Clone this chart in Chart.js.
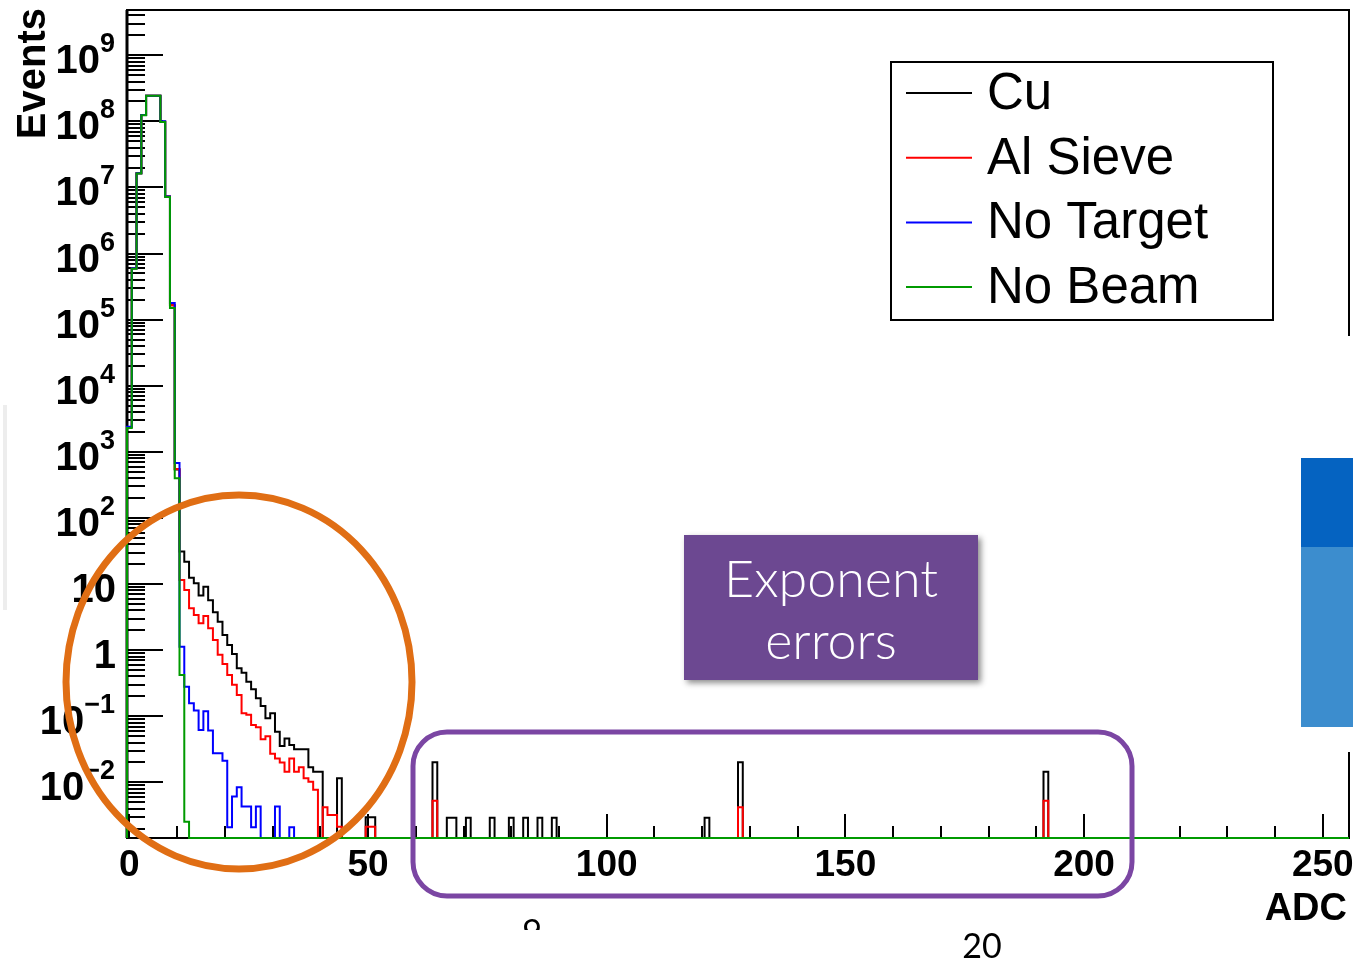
<!DOCTYPE html>
<html>
<head>
<meta charset="utf-8">
<script src="https://cdn.jsdelivr.net/npm/chart.js@4.4.1/dist/chart.umd.min.js"></script>
<style>
  * { margin: 0; padding: 0; }
  body { background: #fff; width: 1353px; height: 959px; overflow: hidden; }
  canvas { display: block; }
</style>
</head>
<body>
<canvas id="adc" width="1353" height="959"></canvas>
<script>
//  D A T A  (normalised events per ADC channel, bins centred on 0..255)  //
const NBINS = 256;
const Y_MIN = 1.44e-3;
const Y_MAX = 4.84e9;

// channels 0..10, where all four runs sit on top of each other
const cuPeak     = [2380, 6.0e5, 1.64e7, 1.25e8, 2.45e8, 2.45e8, 2.45e8, 9.9e7, 7.3e6, 1.65e5, 540];
const alPeak     = [2380, 6.0e5, 1.64e7, 1.25e8, 2.45e8, 2.45e8, 2.45e8, 9.9e7, 7.3e6, 1.65e5, 550];
const noTgtPeak  = [2400, 6.0e5, 1.64e7, 1.25e8, 2.45e8, 2.45e8, 2.45e8, 1.0e8, 7.3e6, 1.78e5, 680];
const noBeamPeak = [2300, 5.9e5, 1.62e7, 1.24e8, 2.45e8, 2.45e8, 2.45e8, 9.8e7, 7.2e6, 1.5e5, 400];

// tails, starting at channel 11
const cuTail = [31, 21.8, 12.5, 10.3, 6.7, 9.1, 5.7, 3.74, 2.7, 1.7,
                1.2, 0.875, 0.532, 0.457, 0.334, 0.256, 0.187, 0.143, 0.093, 0.111,
                0.0585, 0.0356, 0.046, 0.0368, 0.0317, 0.0317, 0.0317, 0.0169, 0.0145, 0.0145,
                0, 0, 0, 0.0115];
const alTail = [11.5, 8.1, 4.3, 3.4, 2.55, 3.3, 2.14, 1.43, 0.85, 0.62,
                0.42, 0.30, 0.21, 0.111, 0.105, 0.074, 0.068, 0.045, 0.050, 0.027,
                0.023, 0.020, 0.0145, 0.023, 0.0145, 0.017, 0.0115, 0.0102, 0.0077, 0,
                0.0042, 0.0032, 0.0032, 0.00214];
const noTgtTail = [1.13, 0.28, 0.157, 0.122, 0.062, 0.119, 0.061, 0.0275, 0.0275, 0.0213,
                   0.0021, 0.0061, 0.0084, 0.0043, 0.0043, 0.0021, 0.0043, 0, 0, 0,
                   0.0043, 0, 0, 0.0021];
const noBeamTail = [0.42, 0.00254];

// isolated high channels (the "exponent errors")
const spikeBins = [50, 51, 64, 67, 68, 71, 76, 80, 83, 86, 89, 121, 128, 192];
const cuSpikes  = [0.00297, 0.00297, 0.0201, 0.00292, 0.00292, 0.00292, 0.00292, 0.00292,
                   0.00292, 0.00292, 0.00292, 0.00292, 0.0201, 0.0145];
const alSpikes  = [0.00214, 0.00214, 0.00528, 0, 0, 0, 0, 0, 0, 0, 0, 0, 0.0042, 0.00528];

const seriesNames  = ["Cu", "Al Sieve", "No Target", "No Beam"];
const seriesColors = ["#000000", "#ff0000", "#0000ff", "#009a00"];

const xTickValues = [0, 50, 100, 150, 200, 250];
const yDecades    = [-2, -1, 0, 1, 2, 3, 4, 5, 6, 7, 8, 9];


//  B U I L D   H I S T O G R A M S  //
function buildHist(peak, tail, spikes) {
    const h = new Array(NBINS).fill(0);
    peak.forEach((v, i) => h[i] = v);
    tail.forEach((v, i) => h[peak.length + i] = v);
    if (spikes) spikeBins.forEach((b, i) => h[b] = spikes[i]);
    return h;
}

// one point per left bin edge, step drawn to the right
function toSteps(h) {
    const pts = [{ x: -0.5, y: Y_MIN }];
    h.forEach((v, i) => pts.push({ x: i - 0.5, y: Math.max(v, Y_MIN) }));
    pts.push({ x: NBINS - 0.5, y: Math.max(h[NBINS - 1], Y_MIN) });
    return pts;
}

const hists = [
    buildHist(cuPeak, cuTail, cuSpikes),
    buildHist(alPeak, alTail, alSpikes),
    buildHist(noTgtPeak, noTgtTail),
    buildHist(noBeamPeak, noBeamTail)
];


//  R O O T   L O O K  //
const BOLD   = "bold 37px 'Liberation Sans', Arial, sans-serif";
const YBOLD  = "bold 40px 'Liberation Sans', Arial, sans-serif";
const SUP    = "bold 27px 'Liberation Sans', Arial, sans-serif";

const rootStyle = {
    id: "rootStyle",
    beforeDatasetsDraw(chart) {
        const { ctx, chartArea: a, scales: { x, y } } = chart;
        ctx.save();
        ctx.strokeStyle = "#000";
        ctx.lineWidth = 2;

        // log ticks on the left
        for (let n = -3; n <= 9; n++) {
            for (let m = 1; m <= 9; m++) {
                const v = m * Math.pow(10, n);
                if (v <= Y_MIN || v >= Y_MAX) continue;
                const py = Math.round(y.getPixelForValue(v));
                ctx.beginPath();
                ctx.moveTo(a.left, py);
                ctx.lineTo(a.left + (m === 1 ? 36 : 18), py);
                ctx.stroke();
            }
        }

        // ticks along the bottom
        for (let v = 0; v <= 250; v += 10) {
            const px = Math.round(x.getPixelForValue(v));
            ctx.beginPath();
            ctx.moveTo(px, a.bottom);
            ctx.lineTo(px, a.bottom - (v % 50 === 0 ? 24 : 12));
            ctx.stroke();
        }

        ctx.strokeRect(a.left, a.top, a.right - a.left, a.bottom - a.top);
        ctx.lineWidth = 3;
        ctx.beginPath();
        ctx.moveTo(a.left, a.top);
        ctx.lineTo(a.left, a.bottom);
        ctx.stroke();
        ctx.restore();
    },

    afterDraw(chart) {
        const { ctx, chartArea: a, scales: { x, y } } = chart;
        ctx.save();
        ctx.fillStyle = "#000";

        // x labels
        ctx.font = BOLD;
        ctx.textAlign = "center";
        ctx.textBaseline = "alphabetic";
        xTickValues.forEach(v => ctx.fillText(String(v), x.getPixelForValue(v), 876));

        // y labels 10^n
        const right = 115;
        yDecades.forEach(n => {
            const py = y.getPixelForValue(Math.pow(10, n));
            if (n === 0 || n === 1) {
                ctx.font = YBOLD;
                ctx.textAlign = "right";
                ctx.fillText(n === 0 ? "1" : "10", right + 1, py + 18);
            } else {
                const sup = n < 0 ? "\u2212" + (-n) : String(n);
                ctx.font = SUP;
                const sw = ctx.measureText(sup).width;
                ctx.textAlign = "left";
                ctx.fillText(sup, right - sw, py - 3);
                ctx.font = YBOLD;
                ctx.textAlign = "right";
                ctx.fillText("10", right - sw, py + 18);
            }
        });

        // axis titles
        ctx.font = "bold 38px 'Liberation Sans', Arial, sans-serif";
        ctx.textAlign = "right";
        ctx.fillText("ADC", 1347, 920);
        ctx.save();
        ctx.translate(45, 8);
        ctx.rotate(-Math.PI / 2);
        ctx.font = "bold 40px 'Liberation Sans', Arial, sans-serif";
        ctx.textAlign = "right";
        ctx.fillText("Events", 0, 0);
        ctx.restore();

        // legend
        ctx.fillStyle = "#fff";
        ctx.fillRect(891, 62, 382, 258);
        ctx.strokeStyle = "#000";
        ctx.lineWidth = 2;
        ctx.strokeRect(891, 62, 382, 258);
        ctx.font = "51px 'Liberation Sans', Arial, sans-serif";
        ctx.textAlign = "left";
        seriesNames.forEach((name, i) => {
            const ly = 93 + i * 64.7;
            ctx.strokeStyle = seriesColors[i];
            ctx.beginPath();
            ctx.moveTo(906, ly);
            ctx.lineTo(972, ly);
            ctx.stroke();
            ctx.fillStyle = "#000";
            ctx.fillText(name, 987, ly + 16);
        });

        // right frame edge hidden by the slide overlay
        ctx.fillStyle = "#fff";
        ctx.fillRect(1340, 336, 13, 416);
        ctx.fillStyle = "#0563c1";
        ctx.fillRect(1301, 458, 52, 89);
        ctx.fillStyle = "#3c8dce";
        ctx.fillRect(1301, 547, 52, 180);

        // faint slide edge on the left
        ctx.strokeStyle = "rgba(0,0,0,0.07)";
        ctx.lineWidth = 4;
        ctx.beginPath();
        ctx.moveTo(5, 405);
        ctx.lineTo(5, 610);
        ctx.stroke();

        // purple note
        ctx.save();
        ctx.shadowColor = "rgba(0,0,0,0.45)";
        ctx.shadowBlur = 6;
        ctx.shadowOffsetX = 3;
        ctx.shadowOffsetY = 3;
        ctx.fillStyle = "#6c4891";
        ctx.fillRect(684, 535, 294, 145);
        ctx.restore();
        ctx.fillStyle = "#fff";
        ctx.font = "300 52px Lato, 'Open Sans', sans-serif";
        ctx.textAlign = "center";
        ctx.fillText("Exponent", 831, 597);
        ctx.fillText("errors", 831, 659);

        // orange circle around the tails
        ctx.strokeStyle = "#e06e14";
        ctx.lineWidth = 7;
        ctx.beginPath();
        ctx.ellipse(239, 682, 173, 187, 0, 0, Math.PI * 2);
        ctx.stroke();

        // purple box around the spikes
        ctx.strokeStyle = "#7b46a3";
        ctx.lineWidth = 5;
        ctx.beginPath();
        ctx.roundRect(413, 732, 719, 164, 34);
        ctx.stroke();

        // page bits at the bottom
        ctx.fillStyle = "#000";
        ctx.font = "34px Lato, 'Open Sans', sans-serif";
        ctx.textAlign = "center";
        ctx.fillText("20", 982, 958);
        ctx.save();
        ctx.beginPath();
        ctx.rect(500, 900, 60, 30);
        ctx.clip();
        ctx.fillText("9", 532, 944);
        ctx.restore();

        ctx.restore();
    }
};


//  C H A R T  //
const ctx = document.getElementById("adc").getContext("2d");
new Chart(ctx, {
    type: "line",
    data: {
        datasets: hists.map((h, i) => ({
            label: seriesNames[i],
            data: toSteps(h),
            borderColor: seriesColors[i],
            borderWidth: 2,
            stepped: true,
            pointRadius: 0,
            fill: false,
            clip: 4,
            order: 3 - i
        }))
    },
    options: {
        responsive: false,
        animation: false,
        devicePixelRatio: 1,
        layout: { padding: { left: 127, top: 10, right: 4, bottom: 121 } },
        scales: {
            x: { type: "linear", min: -0.5, max: NBINS - 0.5, display: false },
            y: { type: "logarithmic", min: Y_MIN, max: Y_MAX, display: false }
        },
        plugins: {
            legend: { display: false },
            tooltip: { enabled: false }
        }
    },
    plugins: [rootStyle]
});
</script>
</body>
</html>
